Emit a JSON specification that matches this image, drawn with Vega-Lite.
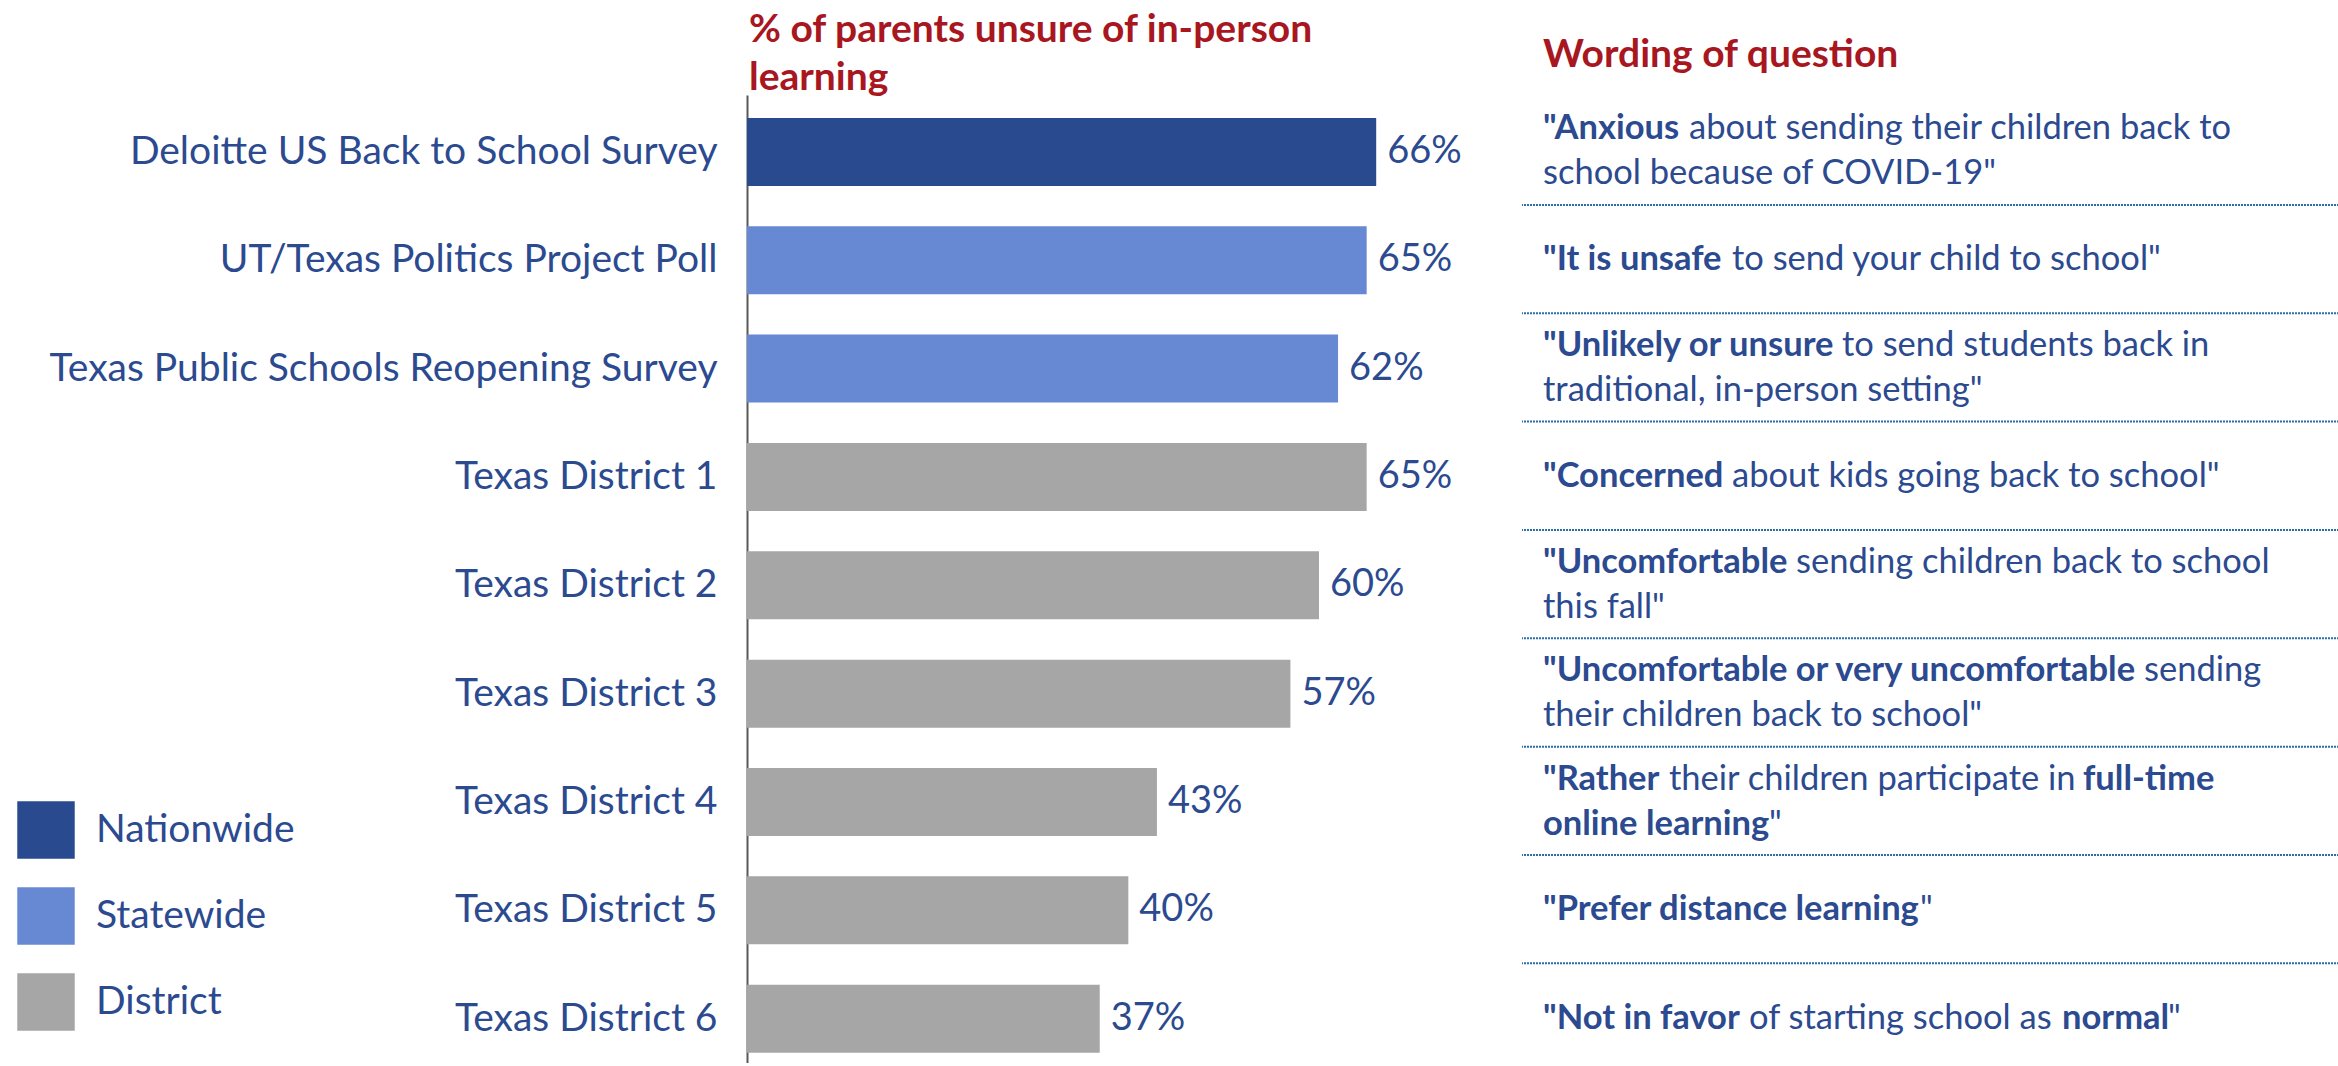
{
  "$schema": "https://vega.github.io/schema/vega-lite/v6.json",
  "background": "white",
  "padding": {"left": 17, "top": 11, "right": 0, "bottom": 0},
  "spacing": 59,
  "config": {
    "view": {"stroke": null},
    "font": "Lato",
    "text": {"font": "Lato", "fontSize": 34.5, "color": "#2B4A8F", "align": "left", "baseline": "middle"}
  },
  "datasets": {
    "bars": [
      {"source": "Deloitte US Back to School Survey", "level": "Nationwide", "share": 0.66},
      {"source": "UT/Texas Politics Project Poll", "level": "Statewide", "share": 0.65},
      {"source": "Texas Public Schools Reopening Survey", "level": "Statewide", "share": 0.62},
      {"source": "Texas District 1", "level": "District", "share": 0.65},
      {"source": "Texas District 2", "level": "District", "share": 0.60},
      {"source": "Texas District 3", "level": "District", "share": 0.57},
      {"source": "Texas District 4", "level": "District", "share": 0.43},
      {"source": "Texas District 5", "level": "District", "share": 0.40},
      {"source": "Texas District 6", "level": "District", "share": 0.37}
    ],
    "wording": [
      {"source": "Deloitte US Back to School Survey", "line": 1, "seq": 0, "emph": true, "text": "\"Anxious"},
      {"source": "Deloitte US Back to School Survey", "line": 1, "seq": 1, "emph": false, "text": "about sending their children back to"},
      {"source": "Deloitte US Back to School Survey", "line": 2, "seq": 0, "emph": false, "text": "school because of COVID-19\""},
      {"source": "UT/Texas Politics Project Poll", "line": 1, "seq": 0, "emph": true, "text": "\"It is unsafe"},
      {"source": "UT/Texas Politics Project Poll", "line": 1, "seq": 1, "emph": false, "text": "to send your child to school\""},
      {"source": "Texas Public Schools Reopening Survey", "line": 1, "seq": 0, "emph": true, "text": "\"Unlikely or unsure"},
      {"source": "Texas Public Schools Reopening Survey", "line": 1, "seq": 1, "emph": false, "text": "to send students back in"},
      {"source": "Texas Public Schools Reopening Survey", "line": 2, "seq": 0, "emph": false, "text": "traditional, in-person setting\""},
      {"source": "Texas District 1", "line": 1, "seq": 0, "emph": true, "text": "\"Concerned"},
      {"source": "Texas District 1", "line": 1, "seq": 1, "emph": false, "text": "about kids going back to school\""},
      {"source": "Texas District 2", "line": 1, "seq": 0, "emph": true, "text": "\"Uncomfortable"},
      {"source": "Texas District 2", "line": 1, "seq": 1, "emph": false, "text": "sending children back to school"},
      {"source": "Texas District 2", "line": 2, "seq": 0, "emph": false, "text": "this fall\""},
      {"source": "Texas District 3", "line": 1, "seq": 0, "emph": true, "text": "\"Uncomfortable or very uncomfortable"},
      {"source": "Texas District 3", "line": 1, "seq": 1, "emph": false, "text": "sending"},
      {"source": "Texas District 3", "line": 2, "seq": 0, "emph": false, "text": "their children back to school\""},
      {"source": "Texas District 4", "line": 1, "seq": 0, "emph": true, "text": "\"Rather"},
      {"source": "Texas District 4", "line": 1, "seq": 1, "emph": false, "text": "their children participate in"},
      {"source": "Texas District 4", "line": 1, "seq": 2, "emph": true, "text": "full-time"},
      {"source": "Texas District 4", "line": 2, "seq": 0, "emph": true, "text": "online learning"},
      {"source": "Texas District 4", "line": 2, "seq": 1, "emph": false, "text": "\""},
      {"source": "Texas District 5", "line": 1, "seq": 0, "emph": true, "text": "\"Prefer distance learning"},
      {"source": "Texas District 5", "line": 1, "seq": 1, "emph": false, "text": "\""},
      {"source": "Texas District 6", "line": 1, "seq": 0, "emph": true, "text": "\"Not in favor"},
      {"source": "Texas District 6", "line": 1, "seq": 1, "emph": false, "text": "of starting school as"},
      {"source": "Texas District 6", "line": 1, "seq": 2, "emph": true, "text": "normal"},
      {"source": "Texas District 6", "line": 1, "seq": 3, "emph": false, "text": "\""}
    ]
  },
  "hconcat": [
    {
      "width": 715,
      "height": 968,
      "data": {"name": "bars"},
      "title": {
        "text": ["% of parents unsure of in-person", "learning"],
        "anchor": "start", "frame": "group", "font": "Lato", "fontSize": 39, "fontWeight": "bold",
        "color": "#A8171F", "lineHeight": 48, "baseline": "bottom", "offset": -42, "dx": 2
      },
      "encoding": {
        "y": {
          "field": "source", "type": "nominal",
          "scale": {
            "domain": ["Deloitte US Back to School Survey", "UT/Texas Politics Project Poll", "Texas Public Schools Reopening Survey", "Texas District 1", "Texas District 2", "Texas District 3", "Texas District 4", "Texas District 5", "Texas District 6"],
            "paddingInner": 0.3725, "paddingOuter": 0.1532, "align": 0.69
          },
          "axis": {
            "title": null, "ticks": false, "domainColor": "#595959", "domainWidth": 2,
            "labelFont": "Lato", "labelFontSize": 39, "labelColor": "#2B4A8F", "labelPadding": 30, "labelLimit": 0
          }
        },
        "x": {"field": "share", "type": "quantitative", "scale": {"domain": [0, 0.75], "nice": false}, "axis": null}
      },
      "layer": [
        {
          "mark": {"type": "bar"},
          "encoding": {
            "color": {
              "field": "level", "type": "nominal",
              "scale": {"domain": ["Nationwide", "Statewide", "District"], "range": ["#2A4A8F", "#6788D3", "#A6A6A6"]},
              "legend": {
                "title": null, "orient": "none", "legendX": -730, "legendY": 706, "direction": "vertical",
                "symbolType": "square", "symbolSize": 3300, "symbolStrokeWidth": 0, "symbolOpacity": 1,
                "labelFont": "Lato", "labelFontSize": 39, "labelColor": "#2B4A8F", "labelOffset": 21, "labelLimit": 400,
                "rowPadding": 28, "padding": 0
              }
            }
          }
        },
        {
          "mark": {"type": "text", "dx": 11, "fontSize": 38},
          "encoding": {"text": {"field": "share", "type": "quantitative", "format": ".0%"}}
        }
      ]
    },
    {
      "width": 817,
      "height": 968,
      "data": {"name": "wording"},
      "title": {
        "text": "Wording of question",
        "anchor": "start", "frame": "group", "font": "Lato", "fontSize": 39, "fontWeight": "bold",
        "color": "#A8171F", "baseline": "bottom", "offset": -19, "dx": 21
      },
      "encoding": {
        "y": {
          "field": "source", "type": "nominal",
          "scale": {
            "domain": ["Deloitte US Back to School Survey", "UT/Texas Politics Project Poll", "Texas Public Schools Reopening Survey", "Texas District 1", "Texas District 2", "Texas District 3", "Texas District 4", "Texas District 5", "Texas District 6"],
            "paddingInner": 0.3725, "paddingOuter": 0.1532, "align": 0.69
          },
          "axis": null
        }
      },
      "layer": [
        {
          "transform": [{"filter": "datum.line == 1 && datum.seq == 0 && datum.source != 'Texas District 6'"}],
          "mark": {"type": "rule", "yOffset": 53, "strokeDash": [2, 1], "strokeWidth": 2, "color": "#2A6FA8"}
        },
        {
          "encoding": {
            "x": {"datum": 0, "type": "quantitative", "scale": {"domain": [0, 1]}, "axis": null},
            "text": {"field": "text", "type": "nominal"}
          },
          "layer": [
            {"transform": [{"filter": "datum.line == 1 && datum.seq == 0 && indexof(['Deloitte US Back to School Survey','Texas Public Schools Reopening Survey','Texas District 2','Texas District 3','Texas District 4'], datum.source) >= 0"}],
             "mark": {"type": "text", "fontWeight": "bold", "dx": 21, "yOffset": -22.5}},
            {"transform": [{"filter": "datum.line == 1 && datum.seq == 0 && indexof(['UT/Texas Politics Project Poll','Texas District 1','Texas District 5','Texas District 6'], datum.source) >= 0"}],
             "mark": {"type": "text", "fontWeight": "bold", "dx": 21, "yOffset": 0}},
            {"transform": [{"filter": "datum.line == 2 && datum.seq == 0 && !datum.emph"}],
             "mark": {"type": "text", "dx": 21, "yOffset": 22.5}},
            {"transform": [{"filter": "datum.line == 2 && datum.seq == 0 && datum.emph"}],
             "mark": {"type": "text", "fontWeight": "bold", "dx": 21, "yOffset": 22.5}},
            {"transform": [{"filter": "datum.source == 'Deloitte US Back to School Survey' && datum.line == 1 && datum.seq == 1"}],
             "mark": {"type": "text", "dx": 167, "yOffset": -22.5}},
            {"transform": [{"filter": "(datum.source == 'UT/Texas Politics Project Poll' || datum.source == 'Texas District 1') && datum.seq == 1"}],
             "mark": {"type": "text", "dx": 210, "yOffset": 0}},
            {"transform": [{"filter": "datum.source == 'Texas Public Schools Reopening Survey' && datum.line == 1 && datum.seq == 1"}],
             "mark": {"type": "text", "dx": 320, "yOffset": -22.5}},
            {"transform": [{"filter": "datum.source == 'Texas District 2' && datum.line == 1 && datum.seq == 1"}],
             "mark": {"type": "text", "dx": 274, "yOffset": -22.5}},
            {"transform": [{"filter": "datum.source == 'Texas District 3' && datum.line == 1 && datum.seq == 1"}],
             "mark": {"type": "text", "dx": 622, "yOffset": -22.5}},
            {"transform": [{"filter": "datum.source == 'Texas District 4' && datum.line == 1 && datum.seq == 1"}],
             "mark": {"type": "text", "dx": 147, "yOffset": -22.5}},
            {"transform": [{"filter": "datum.source == 'Texas District 4' && datum.line == 1 && datum.seq == 2"}],
             "mark": {"type": "text", "fontWeight": "bold", "dx": 561, "yOffset": -22.5}},
            {"transform": [{"filter": "datum.source == 'Texas District 4' && datum.line == 2 && datum.seq == 1"}],
             "mark": {"type": "text", "dx": 247, "yOffset": 22.5}},
            {"transform": [{"filter": "datum.source == 'Texas District 5' && datum.seq == 1"}],
             "mark": {"type": "text", "dx": 398, "yOffset": 0}},
            {"transform": [{"filter": "datum.source == 'Texas District 6' && datum.seq == 1"}],
             "mark": {"type": "text", "dx": 227, "yOffset": 0}},
            {"transform": [{"filter": "datum.source == 'Texas District 6' && datum.seq == 2"}],
             "mark": {"type": "text", "fontWeight": "bold", "dx": 540, "yOffset": 0}},
            {"transform": [{"filter": "datum.source == 'Texas District 6' && datum.seq == 3"}],
             "mark": {"type": "text", "dx": 646, "yOffset": 0}}
          ]
        }
      ]
    }
  ]
}
